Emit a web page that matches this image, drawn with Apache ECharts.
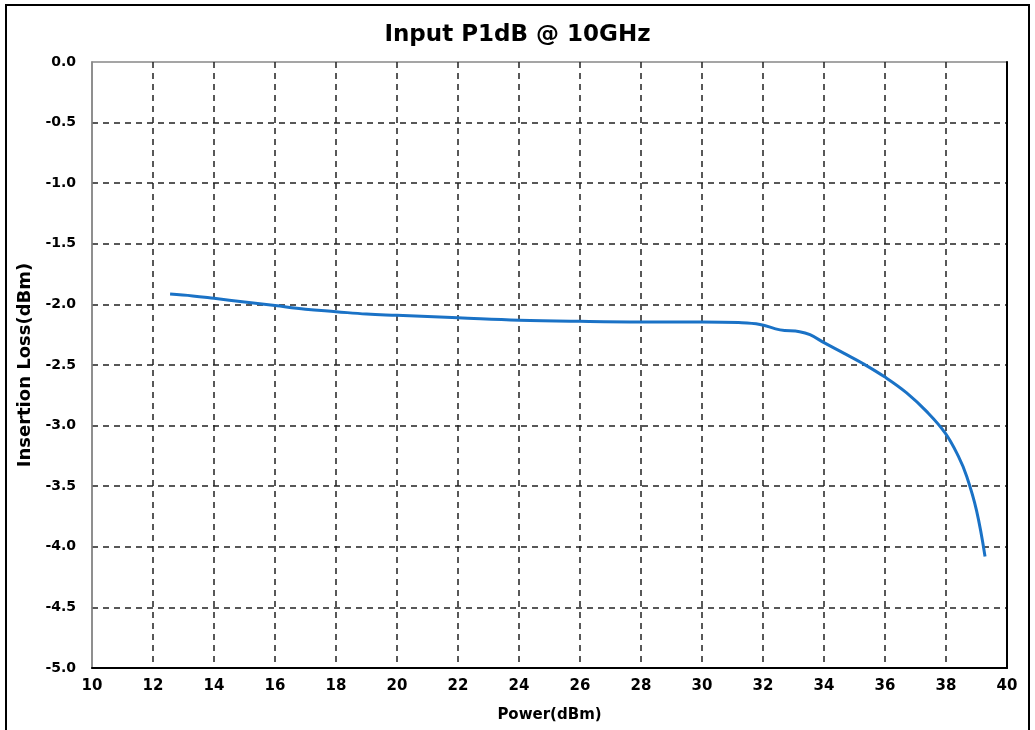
<!DOCTYPE html>
<html>
<head>
<meta charset="utf-8">
<script src="https://cdn.jsdelivr.net/npm/echarts@6/dist/echarts.min.js"></script>
<title>Input P1dB @ 10GHz</title>
<style>
  html, body { margin: 0; padding: 0; background: #fff; }
  #chart { width: 1035px; height: 730px; }
</style>
</head>
<body>
<div id="chart"></div>
<script>
// power in (dBm) and insertion loss
var powerIn = [12.56, 13.3, 14.0, 15.0, 16.0, 17.0, 18.0, 19.0, 20.0, 22.0, 24.0, 26.0, 28.0, 30.0, 31.2,
               31.9, 32.56, 33.2, 33.54, 34.03, 34.63, 35.29, 36.0, 36.71, 37.37, 37.97, 38.4, 38.68, 39.0, 39.28];
var insLoss = [-1.915, -1.93, -1.95, -1.98, -2.01, -2.04, -2.06, -2.08, -2.09, -2.11, -2.13, -2.14, -2.145, -2.145, -2.15,
               -2.165, -2.21, -2.225, -2.25, -2.32, -2.40, -2.49, -2.60, -2.73, -2.885, -3.06, -3.25, -3.42, -3.70, -4.08];

var chart = echarts.init(document.getElementById('chart'));
var font = 'DejaVu Sans, Arial, sans-serif';
var gridDash = { color: '#222', type: [6, 5], width: 1.5 };

chart.setOption({
  animation: false,
  backgroundColor: '#fff',
  title: {
    text: 'Input P1dB @ 10GHz',
    left: 'center',
    top: 19,
    textStyle: { fontFamily: font, fontSize: 23, fontWeight: 'bold', color: '#000' }
  },
  graphic: [{
    type: 'rect',
    shape: { x: 6, y: 5, width: 1023, height: 760 },
    style: { fill: 'none', stroke: '#000', lineWidth: 2 },
    silent: true
  }],
  grid: {
    left: 92, right: 28, top: 62, bottom: 62,
    show: true, borderColor: '#888', borderWidth: 1.5
  },
  xAxis: {
    type: 'value', min: 10, max: 40, interval: 2,
    name: 'Power(dBm)', nameLocation: 'middle', nameGap: 40,
    nameTextStyle: { fontFamily: font, fontSize: 15, fontWeight: 'bold', color: '#000' },
    axisLine: { show: true, onZero: false, lineStyle: { color: '#000', width: 2 } },
    axisTick: { show: false },
    axisLabel: { fontFamily: font, fontSize: 15, fontWeight: 'bold', color: '#000', margin: 11 },
    splitLine: { show: true, showMinLine: false, showMaxLine: false, lineStyle: gridDash }
  },
  yAxis: [{
    type: 'value', min: -5, max: 0, interval: 0.5,
    name: 'Insertion Loss(dBm)', nameLocation: 'middle', nameGap: 52,
    nameTextStyle: { fontFamily: font, fontSize: 18, fontWeight: 'bold', color: '#000' },
    axisLine: { show: true, lineStyle: { color: '#888', width: 1.5 } },
    axisTick: { show: false },
    axisLabel: {
      fontFamily: font, fontSize: 14, fontWeight: 'bold', color: '#000', margin: 16,
      formatter: function (v) { return v.toFixed(1); }
    },
    splitLine: { show: true, showMinLine: false, showMaxLine: false, lineStyle: gridDash }
  }, {
    type: 'value', min: -5, max: 0, position: 'right',
    axisLine: { show: true, lineStyle: { color: '#000', width: 2 } },
    axisTick: { show: false }, axisLabel: { show: false }, splitLine: { show: false }
  }],
  series: [{
    type: 'line',
    yAxisIndex: 0,
    data: powerIn.map(function (p, i) { return [p, insLoss[i]]; }),
    smooth: 0.4,
    showSymbol: false,
    lineStyle: { color: '#1a72c6', width: 3 }
  }]
});
</script>
</body>
</html>
